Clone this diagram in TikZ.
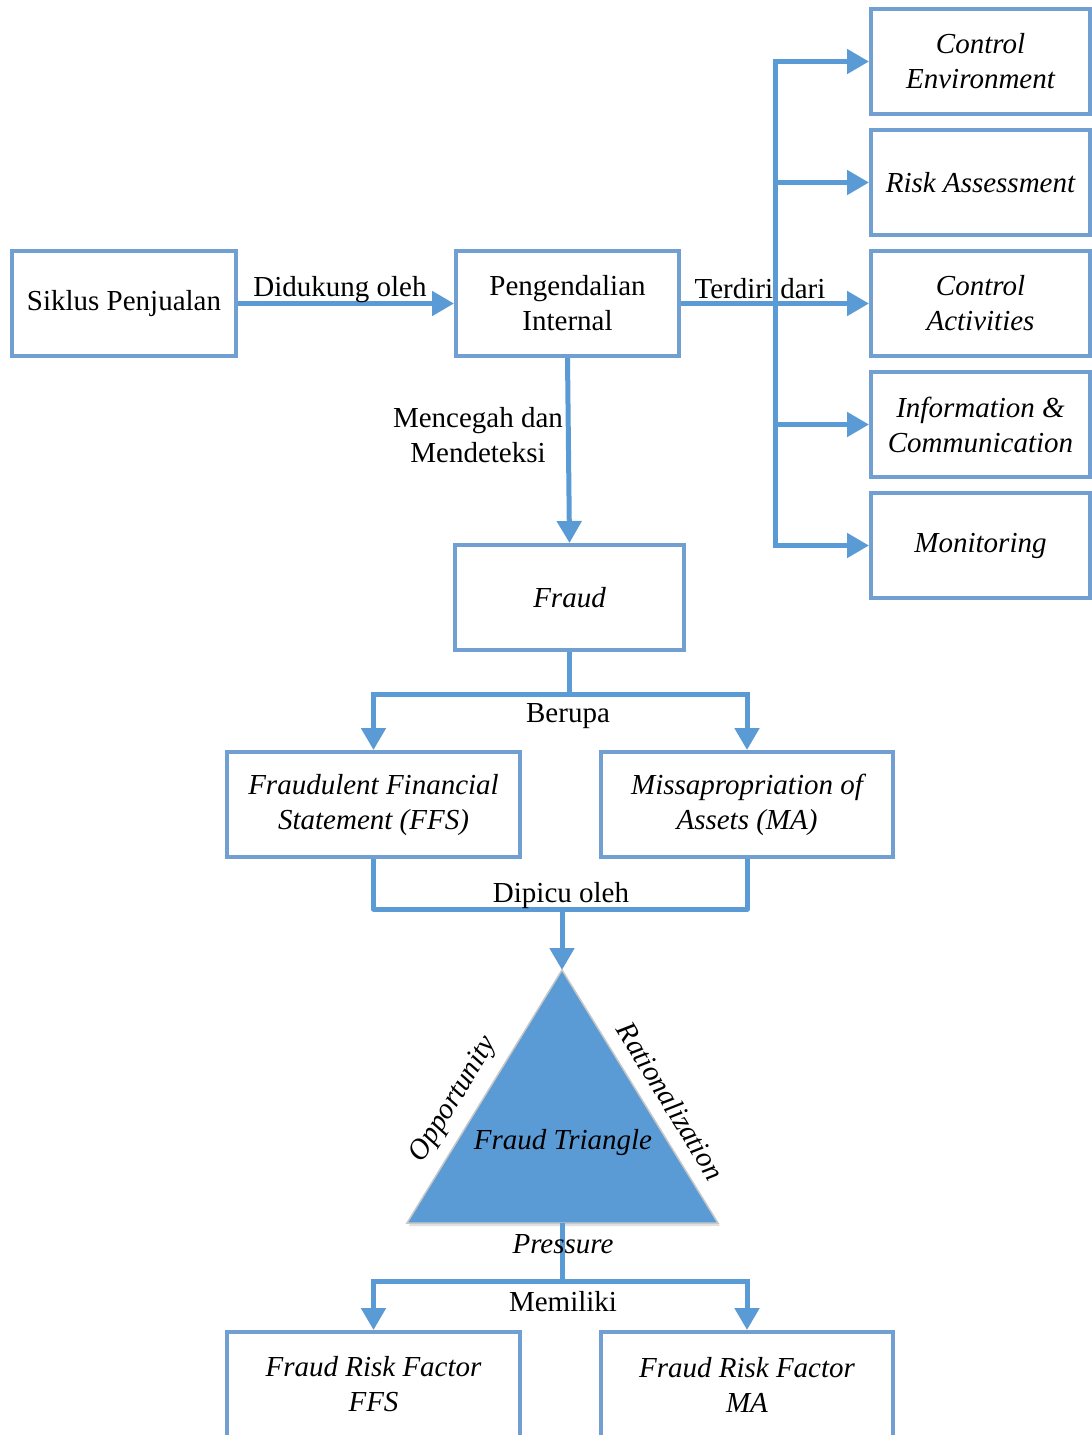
\documentclass[tikz,border=0pt]{standalone}
\usepackage{fontspec}
\setmainfont{Liberation Serif}
\usetikzlibrary{arrows.meta,calc}
\definecolor{arr}{HTML}{5B9BD5}
\definecolor{bord}{HTML}{729FD2}
\begin{document}
\begin{tikzpicture}[x=1pt,y=-1pt,
  box/.style={draw=bord,line width=4pt,fill=white,minimum height=105pt,align=center,inner sep=0pt,font=\fontsize{29}{35}\selectfont},
  ibox/.style={box,font=\fontsize{29}{35}\selectfont\itshape},
  conn/.style={draw=arr,line width=5pt},
  arrow/.style={conn,-{Triangle[length=22pt,width=24pt]}},
  lbl/.style={inner sep=0pt,align=center,font=\fontsize{29}{35}\selectfont},
  ilbl/.style={lbl,font=\fontsize{29}{35}\selectfont\itshape}]
\useasboundingbox (0,0) rectangle (1092,1435);

% boxes
\node[box,minimum width=224pt] (sik) at (124,303.5) {Siklus Penjualan};
\node[box,minimum width=223pt] (peng) at (567.5,303.5) {Pengendalian\\Internal};
\node[ibox,minimum width=219pt] (ce) at (980.5,61.5) {Control\\Environment};
\node[ibox,minimum width=219pt] (ra) at (980.5,182.5) {Risk Assessment};
\node[ibox,minimum width=219pt] (ca) at (980.5,303.5) {Control\\Activities};
\node[ibox,minimum width=219pt] (ic) at (980.5,424.5) {Information \&\\Communication};
\node[ibox,minimum width=219pt] (mo) at (980.5,545.5) {Monitoring};
\node[ibox,minimum width=229pt] (fraud) at (569.5,597.5) {Fraud};
\node[ibox,minimum width=293pt] (ffs) at (373.5,804.5) {\raisebox{-4pt}{\begin{tabular}{@{}c@{}}Fraudulent Financial\\Statement (FFS)\end{tabular}}};
\node[ibox,minimum width=292pt] (ma) at (747,804.5) {\raisebox{-4pt}{\begin{tabular}{@{}c@{}}Missapropriation of\\Assets (MA)\end{tabular}}};
\node[ibox,minimum width=293pt] (rf1) at (373.5,1384.5) {Fraud Risk Factor\\FFS};
\node[ibox,minimum width=292pt] (rf2) at (747,1384.5) {Fraud Risk Factor\\MA};

% connectors top
\draw[arrow] (sik.east) -- (peng.west);
\node[lbl] (l1) at (340,290) {Didukung oleh};

\coordinate (bus) at (775,303.5);
\draw[arrow] (peng.east) -- (ca.west);
\draw[arrow] (bus) -- (ce.west -| bus) -- (ce.west);
\draw[arrow] (bus) -- (mo.west -| bus) -- (mo.west);
\draw[arrow] (ra.west -| bus) -- (ra.west);
\draw[arrow] (ic.west -| bus) -- (ic.west);
\node[lbl] (l2) at (760,289) {Terdiri dari};

\draw[arrow] (peng.south) -- (fraud.north);
\node[lbl] (l3) at (478,435) {Mencegah dan\\Mendeteksi};

% Berupa
\coordinate (b1) at (569.5,694);
\draw[conn] (fraud.south) -- (b1);
\draw[arrow] (b1) -| (ffs.north);
\draw[arrow] (b1) -| (ma.north);
\node[lbl] (l4) at (568,716) {Berupa};

% Dipicu oleh
\coordinate (d1) at (562,909);
\coordinate (apex) at (562,970);
\coordinate (tl) at (407,1223);
\coordinate (tr) at (718,1223);
\coordinate (bm) at (562,1223);
\draw[conn,line join=round] (ffs.south) |- (d1);
\draw[conn,line join=round] (ma.south) |- (d1);
\draw[arrow] (d1) -- (apex);
\node[lbl] (l5) at (561,896) {Dipicu oleh};

% triangle
\fill[black!12] ($(tl)+(2,3)$) -- ($(apex)+(2,3)$) -- ($(tr)+(2,3)$) -- cycle;
\filldraw[fill=arr,draw=black!22,line width=1.5pt,line join=miter] (apex) -- (tr) -- (tl) -- cycle;
\node[ilbl] (ft) at (563,1143) {Fraud Triangle};
\node[ilbl,rotate=58.5] (op) at (454,1100) {Opportunity};
\node[ilbl,rotate=-58.5] (ra2) at (671,1101) {Rationalization};

% Memiliki
\coordinate (m1) at (562,1281);
\draw[conn] (bm) -- (m1);
\draw[arrow] (m1) -| (rf1.north);
\draw[arrow] (m1) -| (rf2.north);
\node[ilbl] (pr) at (563,1244) {Pressure};
\node[lbl] (l6) at (563,1302) {Memiliki};
\end{tikzpicture}
\end{document}
